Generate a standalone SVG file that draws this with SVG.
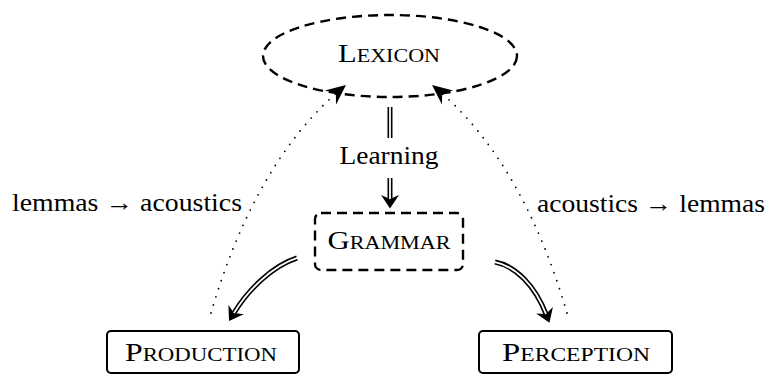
<svg xmlns="http://www.w3.org/2000/svg" width="769" height="374" viewBox="0 0 769 374">
  <style>
    .sc { font-variant: small-caps; }
    .dashed { fill: none; stroke: #000; stroke-width: 2.4; stroke-dasharray: 10 6; }
    .box { fill: #fff; stroke: #000; stroke-width: 2; }
    .dots { fill: none; stroke: #000; stroke-width: 1.8; stroke-linecap: round; stroke-dasharray: 0 8.5; }
    .dblo { fill: none; stroke: #000; stroke-width: 5; }
    .dbli { fill: none; stroke: #fff; stroke-width: 1.8; }
  </style>
  <defs>
    <marker id="stealth" markerUnits="userSpaceOnUse" orient="auto" markerWidth="40" markerHeight="40" refX="0" refY="0" viewBox="-20 -20 40 40" overflow="visible">
      <path d="M0,0 L-20,-9 L-13,0 L-20,9 Z" fill="#000"/>
    </marker>
    <marker id="dbl" markerUnits="userSpaceOnUse" orient="auto" markerWidth="40" markerHeight="40" refX="0" refY="0" viewBox="-20 -20 40 40" overflow="visible">
      <path d="M9.5,0 L-4,-9 L0,0 L-4,9 Z" fill="#000"/>
    </marker>
  </defs>

  <g font-family="Liberation Serif" font-size="25" fill="#000">
  <g id="lexicon">
    <ellipse class="dashed" cx="390" cy="56" rx="127" ry="41"/>
    <text class="sc" x="389" y="62" text-anchor="middle" textLength="102" lengthAdjust="spacingAndGlyphs">Lexicon</text>
  </g>

  <g id="grammar">
    <rect class="dashed" x="315" y="213" width="148" height="57" rx="6"/>
    <text class="sc" x="389" y="249" text-anchor="middle" textLength="123" lengthAdjust="spacingAndGlyphs">Grammar</text>
  </g>

  <g id="production">
    <rect class="box" x="107" y="331" width="192" height="42" rx="4"/>
    <text class="sc" x="201" y="361" text-anchor="middle" textLength="152" lengthAdjust="spacingAndGlyphs">Production</text>
  </g>

  <g id="perception">
    <rect class="box" x="479" y="331" width="193" height="42" rx="4"/>
    <text class="sc" x="576" y="361" text-anchor="middle" textLength="148" lengthAdjust="spacingAndGlyphs">Perception</text>
  </g>

  <g id="connectors">
    <!-- Lexicon = Learning => Grammar -->
    <path class="dblo" d="M390,107 L390,138"/>
    <path class="dbli" d="M390,105 L390,140"/>
    <text x="389" y="164" text-anchor="middle" textLength="99" lengthAdjust="spacingAndGlyphs">Learning</text>
    <path class="dblo" d="M390,178 L390,199" marker-end="url(#dbl)"/>
    <path class="dbli" d="M390,176 L390,199"/>

    <!-- Grammar => Production -->
    <path class="dblo" d="M297,258 C272,266 248,290 234,313" marker-end="url(#dbl)"/>
    <path class="dbli" d="M298,257.7 C272,266 248,290 234,313"/>

    <!-- Grammar => Perception -->
    <path class="dblo" d="M495,262 C516,266 535,286 546,314" marker-end="url(#dbl)"/>
    <path class="dbli" d="M494,261.8 C516,266 535,286 546,314"/>

    <!-- Production ..> Lexicon -->
    <path class="dots" d="M211,313 C228,255 265,150 346,85" marker-end="url(#stealth)"/>
    <text x="12" y="211" textLength="230" lengthAdjust="spacingAndGlyphs">lemmas → acoustics</text>

    <!-- Perception ..> Lexicon -->
    <path class="dots" d="M567,313 C550,255 513,150 432,85" marker-end="url(#stealth)"/>
    <text x="537" y="212" textLength="228" lengthAdjust="spacingAndGlyphs">acoustics → lemmas</text>
  </g>
  </g>
</svg>
